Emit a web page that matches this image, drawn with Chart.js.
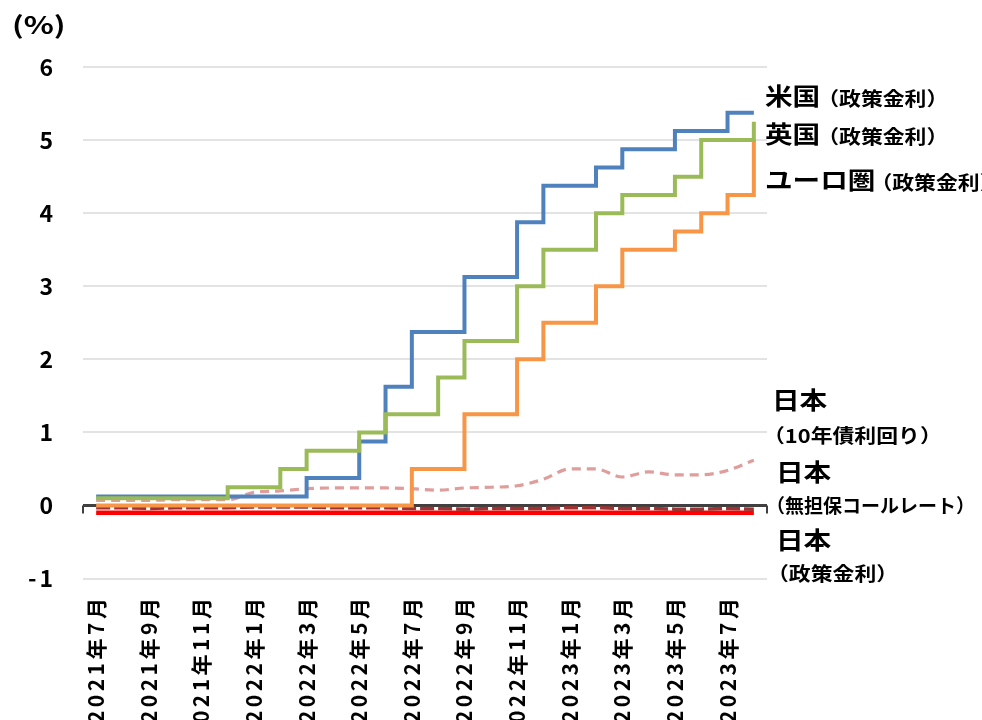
<!DOCTYPE html>
<html lang="ja">
<head>
<meta charset="utf-8">
<title>主要国・地域の政策金利と日本の金利</title>
<script src="https://cdn.jsdelivr.net/npm/chart.js@4.4.1/dist/chart.umd.min.js"></script>
<style>
  html, body { margin: 0; padding: 0; background: #ffffff; overflow: hidden; }
  #wrap { position: relative; width: 982px; height: 720px; }
</style>
</head>
<body>
<div id="wrap"><canvas id="chart" width="982" height="720"></canvas></div>
<script>
// Monthly observations, July 2021 – August 2023
const months = [
  '2021年7月', '2021年8月', '2021年9月', '2021年10月', '2021年11月', '2021年12月',
  '2022年1月', '2022年2月', '2022年3月', '2022年4月', '2022年5月', '2022年6月',
  '2022年7月', '2022年8月', '2022年9月', '2022年10月', '2022年11月', '2022年12月',
  '2023年1月', '2023年2月', '2023年3月', '2023年4月', '2023年5月', '2023年6月',
  '2023年7月', '2023年8月'
];

// US policy rate (midpoint of the target range), %
const usRate = [
  0.125, 0.125, 0.125, 0.125, 0.125, 0.125, 0.125, 0.125, 0.375, 0.375, 0.875, 1.625,
  2.375, 2.375, 3.125, 3.125, 3.875, 4.375, 4.375, 4.625, 4.875, 4.875, 5.125, 5.125,
  5.375, 5.375
];

// UK Bank Rate, %
const ukRate = [
  0.1, 0.1, 0.1, 0.1, 0.1, 0.25, 0.25, 0.5, 0.75, 0.75, 1.0, 1.25,
  1.25, 1.75, 2.25, 2.25, 3.0, 3.5, 3.5, 4.0, 4.25, 4.25, 4.5, 5.0,
  5.0, 5.25
];

// Euro area policy rate, %
const euroRate = [
  0, 0, 0, 0, 0, 0, 0, 0, 0, 0, 0, 0,
  0.5, 0.5, 1.25, 1.25, 2.0, 2.5, 2.5, 3.0, 3.5, 3.5, 3.75, 4.0,
  4.25, 5.0
];

// Japan 10-year JGB yield, %
const jgb10y = [
  0.07, 0.07, 0.07, 0.08, 0.08, 0.08, 0.18, 0.20, 0.23, 0.24, 0.24, 0.24,
  0.23, 0.21, 0.24, 0.25, 0.27, 0.36, 0.50, 0.50, 0.39, 0.46, 0.42, 0.42,
  0.48, 0.62
];

// Japan uncollateralized overnight call rate, %
const callRate = [
  -0.03, -0.03, -0.04, -0.03, -0.03, -0.03, -0.02, -0.02, -0.02, -0.03, -0.03, -0.03,
  -0.04, -0.04, -0.05, -0.04, -0.04, -0.04, -0.03, -0.03, -0.04, -0.04, -0.05, -0.05,
  -0.04, -0.05
];

// Bank of Japan policy rate, %
const bojRate = [
  -0.1, -0.1, -0.1, -0.1, -0.1, -0.1, -0.1, -0.1, -0.1, -0.1, -0.1, -0.1,
  -0.1, -0.1, -0.1, -0.1, -0.1, -0.1, -0.1, -0.1, -0.1, -0.1, -0.1, -0.1,
  -0.1, -0.1
];

// Value-axis ticks
const yTicks = [-1, 0, 1, 2, 3, 4, 5, 6];

const FONT = "'Noto Sans CJK JP', 'Noto Sans', sans-serif";
Chart.defaults.font.family = FONT;
Chart.defaults.color = '#000000';

// Series names drawn at the right edge of the plot
const seriesNotes = {
  id: 'seriesNotes',
  afterDraw(chart) {
    const { ctx, chartArea, scales } = chart;
    const y = scales.y;
    const put = (text, x, py, size, sx = 1.15) => {
      ctx.save();
      ctx.font = `bold ${size}px ${FONT}`;
      ctx.fillStyle = '#000000';
      ctx.textBaseline = 'middle';
      ctx.textAlign = 'left';
      ctx.translate(x, py);
      ctx.scale(sx, 1);
      ctx.fillText(text, 0, 0);
      const w = ctx.measureText(text).width * sx;
      ctx.restore();
      return w;
    };
    const r = chartArea.right;
    let w;
    w = put('米国', r - 2, y.getPixelForValue(5.61), 24);
    put('（政策金利）', r - 5 + w, y.getPixelForValue(5.57), 19);
    w = put('英国', r - 2, y.getPixelForValue(5.09), 24);
    put('（政策金利）', r - 5 + w, y.getPixelForValue(5.05), 19);
    w = put('ユーロ圏', r - 2, y.getPixelForValue(4.45), 24);
    put('（政策金利）', r - 7 + w, y.getPixelForValue(4.41), 19);

    put('日本', r + 5, y.getPixelForValue(1.44), 24);
    put('（10年債利回り）', r - 4, y.getPixelForValue(0.96), 19);
    put('日本', r + 9, y.getPixelForValue(0.46), 24);
    put('（無担保コールレート）', r - 1, y.getPixelForValue(-0.01), 19, 1.0);
    put('日本', r + 9, y.getPixelForValue(-0.47), 24);
    put('（政策金利）', r, y.getPixelForValue(-0.94), 19);

    // unit label above the value axis
    put('(%)', 12, 25, 24, 1.3);
  }
};

// Short end marks on the zero axis line
const axisEnds = {
  id: 'axisEnds',
  beforeDatasetsDraw(chart) {
    const { ctx, chartArea, scales } = chart;
    const y0 = scales.y.getPixelForValue(0);
    ctx.save();
    ctx.strokeStyle = '#404040';
    ctx.lineWidth = 2;
    ctx.beginPath();
    ctx.moveTo(chartArea.left, y0);
    ctx.lineTo(chartArea.left, y0 + 8);
    ctx.moveTo(chartArea.right, y0);
    ctx.lineTo(chartArea.right, y0 + 8);
    ctx.stroke();
    ctx.restore();
  }
};

// Wider character spacing for the axis tick labels
const tickSpacing = {
  id: 'tickSpacing',
  afterUpdate(chart) {
    ['x', 'y'].forEach((id) => {
      const s = chart.scales[id];
      if (!s || s._spaced) return;
      const orig = s.drawLabels.bind(s);
      s.drawLabels = function (area) {
        const c = this.ctx;
        const prev = c.letterSpacing;
        c.letterSpacing = id === 'x' ? '3.5px' : '3px';
        orig(area);
        c.letterSpacing = prev || '0px';
      };
      s._spaced = true;
    });
  }
};

const lineBase = { pointRadius: 0, pointHoverRadius: 0, fill: false };

new Chart(document.getElementById('chart'), {
  type: 'line',
  data: {
    labels: months,
    datasets: [
      { ...lineBase, label: '英国(政策金利)', data: ukRate, borderColor: '#9bbb59', borderWidth: 4, stepped: true, order: 1 },
      { ...lineBase, label: '米国(政策金利)', data: usRate, borderColor: '#4f81bd', borderWidth: 4, stepped: true, order: 2 },
      { ...lineBase, label: 'ユーロ圏(政策金利)', data: euroRate, borderColor: '#f79646', borderWidth: 4, stepped: true, order: 3 },
      { ...lineBase, label: '日本(無担保コールレート)', data: callRate, borderColor: '#9b3533', borderWidth: 3.5, borderDash: [14, 4], order: 4 },
      { ...lineBase, label: '日本(10年債利回り)', data: jgb10y, borderColor: 'rgba(217,140,138,0.85)', borderWidth: 3.2, borderDash: [9, 6], tension: 0.4, cubicInterpolationMode: 'monotone', order: 5 },
      { ...lineBase, label: '日本(政策金利)', data: bojRate, borderColor: '#ff0000', borderWidth: 4.5, order: 6 }
    ]
  },
  options: {
    responsive: false,
    animation: false,
    devicePixelRatio: 1,
    layout: { padding: { top: 67, right: 215, bottom: 0, left: 0 } },
    plugins: { legend: { display: false }, tooltip: { enabled: false } },
    scales: {
      x: {
        type: 'category',
        offset: true,
        grid: { display: false, drawTicks: false },
        border: { display: false },
        ticks: {
          autoSkip: false,
          minRotation: 90,
          maxRotation: 90,
          padding: 16,
          color: '#000000',
          font: { size: 21, weight: 'bold' },
          callback(value, index) {
            return index % 2 === 0 ? this.getLabelForValue(value) : '';
          }
        },
        afterFit(scale) { scale.height = 720 - 578.6; }
      },
      y: {
        min: -1,
        max: 6,
        afterBuildTicks(scale) { scale.ticks = yTicks.map((v) => ({ value: v })); },
        grid: {
          drawTicks: false,
          lineWidth: (c) => (c.tick && c.tick.value === 0 ? 3 : 2),
          color: (c) => (c.tick && c.tick.value === 0 ? '#404040' : '#e3e3e3')
        },
        border: { display: false },
        ticks: {
          padding: 27,
          color: '#000000',
          font: { size: 23, weight: 'bold' }
        },
        afterFit(scale) { scale.width = 83; }
      }
    }
  },
  plugins: [seriesNotes, axisEnds, tickSpacing]
});
</script>
</body>
</html>
